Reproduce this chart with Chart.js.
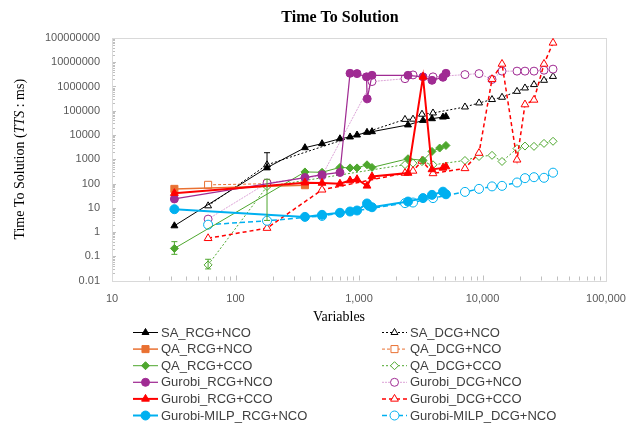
<!DOCTYPE html>
<html>
<head>
<meta charset="utf-8">
<title>Time To Solution</title>
<script src="https://cdn.jsdelivr.net/npm/chart.js@4.4.1/dist/chart.umd.min.js"></script>
<style>
  html, body { margin: 0; padding: 0; background: #fff; }
  #wrap { width: 630px; height: 424px; }
</style>
</head>
<body>
<div id="wrap"><canvas id="tts" width="630" height="424"></canvas></div>
<script>
// ---- data ----
const xTickValues = [10, 100, 1000, 10000, 100000];
const xTickLabels = ['10', '100', '1,000', '10,000', '100,000'];
const yTickValues = [0.01, 0.1, 1, 10, 100, 1000, 10000, 100000, 1000000, 10000000, 100000000];
const yTickLabels = ['0.01', '0.1', '1', '10', '100', '1000', '10000', '100000', '1000000', '10000000', '100000000'];

const saRcgX = [32, 180, 365, 502, 701, 846, 964, 1161, 1274, 2493, 3297, 3900, 4786, 5060];
const saRcgY = [1.8, 450, 3000, 4400, 7000, 8300, 10000, 12900, 13700, 26000, 40000, 47000, 55000, 58000];
const saDcgX = [60, 180, 2357, 2737, 3236, 3974, 7211, 9372, 11940, 14390, 19030, 22080, 26120, 31480, 37250];
const saDcgY = [12, 590, 44000, 45000, 72000, 81000, 143000, 210000, 290000, 360000, 630000, 870000, 1200000, 1800000, 2600000];

const qaRcgNcoX = [32, 365];
const qaRcgNcoY = [60, 85];
const qaDcgNcoX = [60, 180];
const qaDcgNcoY = [88, 98];

const qaRcgCcoX = [32, 365, 502, 701, 846, 964, 1161, 1274, 2493, 3297, 3900, 4500, 5060];
const qaRcgCcoY = [0.21, 300, 290, 460, 440, 440, 590, 460, 1050, 900, 2100, 2900, 3700];
const qaDcgCcoX = [60, 180, 2357, 2737, 3236, 3974, 7211, 9372, 11940, 14390, 19030, 22080, 26120, 31480, 37250];
const qaDcgCcoY = [0.044, 75, 600, 690, 800, 590, 890, 1300, 1450, 810, 2750, 3500, 3400, 4500, 5500];

const grbRcgNcoX = [32, 365, 502, 701, 846, 964, 1150, 1165, 1274, 2493, 3297, 3900, 4786, 5060];
const grbRcgNcoY = [23, 175, 230, 285, 3500000, 3400000, 2500000, 310000, 2900000, 2900000, 2500000, 1800000, 2400000, 3500000];
const grbDcgNcoX = [60, 180, 502, 1274, 2357, 2737, 3974, 7211, 9372, 11940, 14390, 19030, 22080, 26120, 31480, 37250];
const grbDcgNcoY = [3.4, 105, 210, 1600000, 2100000, 3000000, 2500000, 3100000, 3400000, 1950000, 4300000, 4300000, 4300000, 4300000, 4700000, 5200000];

const grbRcgCcoX = [32, 365, 502, 701, 846, 964, 1161, 1274, 2493, 3297, 3900, 4786, 5060];
const grbRcgCcoY = [40, 108, 105, 98, 133, 150, 80, 195, 270, 2500000, 380, 440, 500];
const grbDcgCcoX = [60, 180, 502, 2357, 2737, 3236, 3974, 7211, 9372, 11940, 14390, 19030, 22080, 26120, 31480, 37250];
const grbDcgCcoY = [0.55, 1.45, 55, 270, 330, 850, 260, 420, 1800, 2000000, 8500000, 950, 180000, 280000, 8500000, 63000000];

const milpRcgX = [32, 365, 502, 701, 846, 964, 1161, 1200, 1274, 2493, 3297, 3900, 4786, 5060];
const milpRcgY = [8.7, 4.2, 5.1, 6.2, 7, 7.7, 15, 12, 10.5, 18, 25, 34, 46, 36];
const milpDcgX = [60, 180, 502, 2357, 2737, 3974, 7211, 9372, 11940, 14390, 19030, 22080, 26120, 31480, 37250];
const milpDcgY = [2.0, 2.9, 4.6, 15.5, 16.4, 25, 45, 60, 76, 80, 110, 166, 182, 172, 280];

// error bars (low / high values)
const errLabel = ['SA_DCG+NCO', 'QA_RCG+CCO', 'QA_DCG+CCO', 'QA_DCG+CCO'];
const errX = [180, 32, 60, 180];
const errLow = [370, 0.12, 0.03, 3];
const errHigh = [1860, 0.40, 0.075, 150];

// ---- series look ----
const series = [
  { label: 'SA_RCG+NCO', x: saRcgX, y: saRcgY, color: '#000000', line: '#000000', width: 1, dash: [], style: 'triangle', r: 4, open: false },
  { label: 'SA_DCG+NCO', x: saDcgX, y: saDcgY, color: '#000000', line: '#000000', width: 1, dash: [2, 2], style: 'triangle', r: 4, open: true },
  { label: 'QA_RCG+NCO', x: qaRcgNcoX, y: qaRcgNcoY, color: '#E97132', line: '#E97132', width: 1.5, dash: [], style: 'rect', r: 5, open: false },
  { label: 'QA_DCG+NCO', x: qaDcgNcoX, y: qaDcgNcoY, color: '#E97132', line: '#E97132', width: 1, dash: [3, 2], style: 'rect', r: 5, open: true },
  { label: 'QA_RCG+CCO', x: qaRcgCcoX, y: qaRcgCcoY, color: '#4EA72E', line: '#4EA72E', width: 1, dash: [], style: 'rectRot', r: 4, open: false },
  { label: 'QA_DCG+CCO', x: qaDcgCcoX, y: qaDcgCcoY, color: '#4EA72E', line: '#4EA72E', width: 1, dash: [2, 2], style: 'rectRot', r: 4, open: true },
  { label: 'Gurobi_RCG+NCO', x: grbRcgNcoX, y: grbRcgNcoY, color: '#A02B93', line: '#A02B93', width: 1.25, dash: [], style: 'circle', r: 4, open: false },
  { label: 'Gurobi_DCG+NCO', x: grbDcgNcoX, y: grbDcgNcoY, color: '#A02B93', line: '#DCA3D7', width: 1, dash: [2, 1], style: 'circle', r: 4, open: true },
  { label: 'Gurobi_RCG+CCO', x: grbRcgCcoX, y: grbRcgCcoY, color: '#FF0000', line: '#FF0000', width: 2, dash: [], style: 'triangle', r: 4.5, open: false },
  { label: 'Gurobi_DCG+CCO', x: grbDcgCcoX, y: grbDcgCcoY, color: '#FF0000', line: '#FF0000', width: 1.5, dash: [4, 3], style: 'triangle', r: 4.5, open: true },
  { label: 'Gurobi-MILP_RCG+NCO', x: milpRcgX, y: milpRcgY, color: '#00B0F0', line: '#00B0F0', width: 2, dash: [], style: 'circle', r: 4.5, open: false },
  { label: 'Gurobi-MILP_DCG+NCO', x: milpDcgX, y: milpDcgY, color: '#00B0F0', line: '#00B0F0', width: 1.5, dash: [5, 3], style: 'circle', r: 4.5, open: true },
];

// open (DCG) series go underneath, filled (RCG) series on top
const datasets = series.map((s, i) => ({
  label: s.label,
  data: s.x.map((v, k) => ({ x: v, y: s.y[k] })),
  showLine: true,
  tension: 0,
  borderColor: s.line,
  borderWidth: s.width,
  borderDash: s.dash,
  pointStyle: s.style,
  pointRadius: s.r,
  pointBorderColor: s.color,
  pointBackgroundColor: s.open ? '#ffffff' : s.color,
  pointBorderWidth: 1,
  order: (s.open ? 100 : 0) + series.length - i,
}));

const SANS = '"Liberation Sans", Arial, sans-serif';
const SERIF = '"Liberation Serif", "Times New Roman", serif';

// frame, minor ticks, titles, error bars and the two-column legend
const decor = {
  id: 'decor',
  beforeDatasetsDraw(chart) {
    const { ctx, chartArea: a, scales } = chart;
    ctx.save();
    ctx.strokeStyle = '#bfbfbf';
    ctx.lineWidth = 1;
    ctx.beginPath();
    for (let n = 1; n < 5; n++) {
      for (let k = 1; k < 10; k++) {
        const px = Math.round(scales.x.getPixelForValue(k * Math.pow(10, n))) + 0.5;
        ctx.moveTo(px, a.bottom);
        ctx.lineTo(px, a.bottom - (k === 1 ? 5 : 4));
      }
    }
    for (let n = -2; n < 8; n++) {
      for (let k = 1; k < 10; k++) {
        const py = Math.round(scales.y.getPixelForValue(k * Math.pow(10, n))) + 0.5;
        ctx.moveTo(a.left, py);
        ctx.lineTo(a.left + (k === 1 ? 4 : 3), py);
      }
    }
    ctx.stroke();
    ctx.strokeStyle = '#d9d9d9';
    ctx.strokeRect(Math.round(a.left) + 0.5, Math.round(a.top) + 0.5, Math.round(a.right - a.left), Math.round(a.bottom - a.top));
    ctx.restore();
  },
  afterDatasetsDraw(chart) {
    const { ctx, scales } = chart;
    ctx.save();
    errLabel.forEach((lab, i) => {
      const s = series.find(d => d.label === lab);
      const px = scales.x.getPixelForValue(errX[i]);
      const lo = scales.y.getPixelForValue(errLow[i]);
      const hi = scales.y.getPixelForValue(errHigh[i]);
      ctx.strokeStyle = s.color;
      ctx.lineWidth = 1;
      ctx.beginPath();
      ctx.moveTo(px, lo); ctx.lineTo(px, hi);
      ctx.moveTo(px - 3, lo); ctx.lineTo(px + 3, lo);
      ctx.moveTo(px - 3, hi); ctx.lineTo(px + 3, hi);
      ctx.stroke();
    });
    ctx.restore();
  },
  afterDraw(chart) {
    const { ctx, chartArea: a } = chart;
    ctx.save();
    ctx.fillStyle = '#000';
    ctx.textAlign = 'center';
    ctx.textBaseline = 'middle';
    ctx.font = 'bold 16px ' + SERIF;
    ctx.fillText('Time To Solution', 340, 18);

    ctx.font = '14px ' + SERIF;
    ctx.fillText('Variables', (a.left + a.right) / 2 - 20, 317);

    // y title with italic TTS
    const parts = [['Time To Solution (', ''], ['TTS', 'italic '], [' : ms)', '']];
    ctx.translate(20, (a.top + a.bottom) / 2);
    ctx.rotate(-Math.PI / 2);
    let total = 0;
    parts.forEach(p => { ctx.font = p[1] + '14px ' + SERIF; total += ctx.measureText(p[0]).width; });
    let cx = -total / 2;
    ctx.textAlign = 'left';
    parts.forEach(p => {
      ctx.font = p[1] + '14px ' + SERIF;
      ctx.fillText(p[0], cx, 0);
      cx += ctx.measureText(p[0]).width;
    });
    ctx.restore();

    // legend, two columns
    ctx.save();
    ctx.font = '13px ' + SANS;
    ctx.textBaseline = 'middle';
    ctx.textAlign = 'left';
    series.forEach((s, i) => {
      const col = i % 2, row = Math.floor(i / 2);
      const x0 = col === 0 ? 133 : 382;
      const y0 = 332.5 + row * 16.6;
      ctx.strokeStyle = s.line;
      ctx.lineWidth = s.width;
      ctx.setLineDash(s.dash);
      ctx.beginPath();
      ctx.moveTo(x0, y0); ctx.lineTo(x0 + 25, y0);
      ctx.stroke();
      ctx.setLineDash([]);
      ctx.lineWidth = 1;
      ctx.strokeStyle = s.color;
      ctx.fillStyle = s.open ? '#ffffff' : s.color;
      Chart.helpers.drawPoint(ctx, { pointStyle: s.style, radius: s.r, rotation: 0, borderWidth: 1 }, x0 + 12.5, y0);
      ctx.fillStyle = '#404040';
      ctx.fillText(s.label, x0 + 28, y0 + 0.5);
    });
    ctx.restore();
  }
};

new Chart(document.getElementById('tts'), {
  type: 'scatter',
  data: { datasets },
  options: {
    responsive: false,
    animation: false,
    layout: { padding: { left: 0, right: 24, top: 38, bottom: 0 } },
    plugins: {
      legend: { display: false },
      tooltip: { enabled: false },
      title: { display: false }
    },
    scales: {
      x: {
        type: 'logarithmic',
        min: 10,
        max: 100000,
        grid: { display: false },
        border: { display: false },
        afterBuildTicks: s => { s.ticks = xTickValues.map(v => ({ value: v })); },
        afterFit: s => { s.height = 143.5; },
        ticks: {
          autoSkip: false,
          maxRotation: 0,
          padding: 4,
          color: '#595959',
          font: { family: SANS, size: 11 },
          callback: (v, i) => xTickLabels[i]
        }
      },
      y: {
        type: 'logarithmic',
        min: 0.01,
        max: 100000000,
        grid: { display: false },
        border: { display: false },
        afterBuildTicks: s => { s.ticks = yTickValues.map(v => ({ value: v })); },
        afterFit: s => { s.width = 112; },
        ticks: {
          autoSkip: false,
          padding: 4,
          color: '#595959',
          font: { family: SANS, size: 11 },
          callback: (v, i) => yTickLabels[i]
        }
      }
    }
  },
  plugins: [decor]
});
</script>
</body>
</html>
